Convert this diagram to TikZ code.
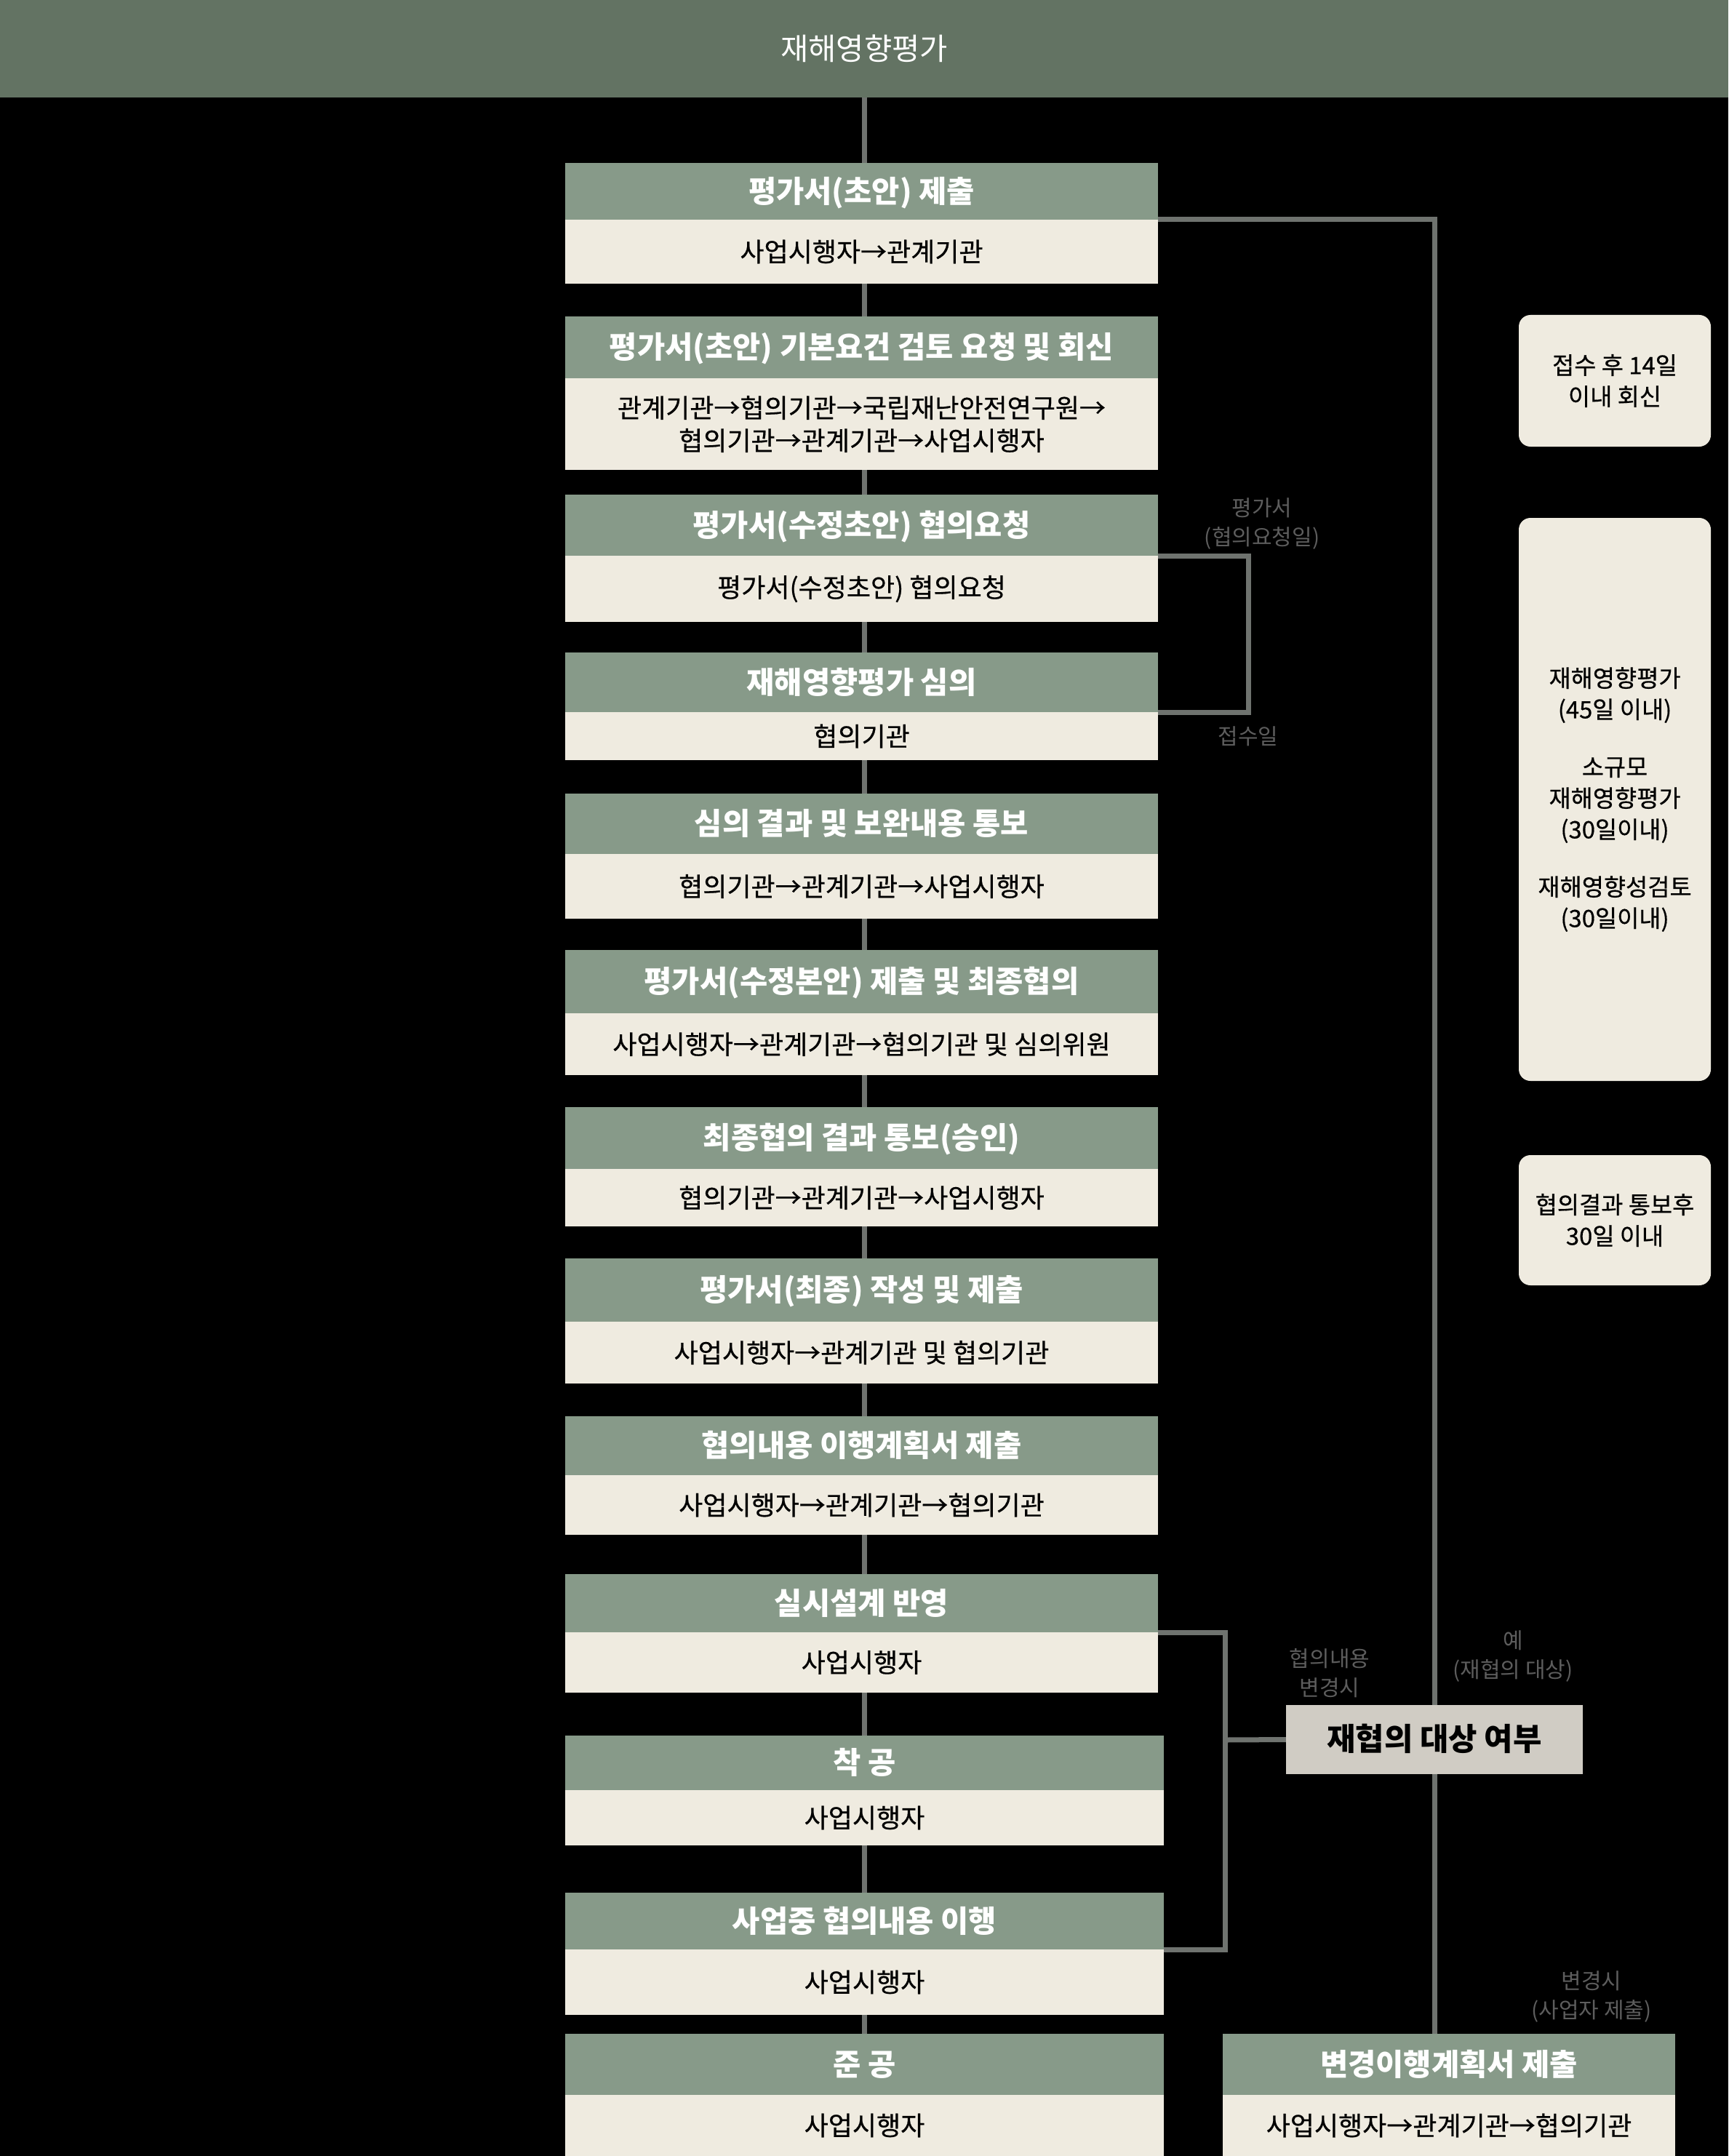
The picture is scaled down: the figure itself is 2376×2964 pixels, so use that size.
\documentclass[tikz,border=0pt]{standalone}
\usepackage{fontspec}
\setmainfont{Noto Sans CJK KR}
\newfontfamily\krmed{Noto Sans CJK KR}[FakeBold=0.5]
\usetikzlibrary{calc}
\definecolor{hdrc}{HTML}{637363}
\definecolor{bandc}{HTML}{879A89}
\definecolor{bodyc}{HTML}{EFEBE0}
\definecolor{jaec}{HTML}{D0CCC4}
\definecolor{linec}{HTML}{6F736F}
\definecolor{labc}{HTML}{5D5D5D}
\pgfdeclarelayer{back}
\pgfdeclarelayer{bg}
\pgfsetlayers{back,bg,main}
\newcommand\mkbox[8]{%
  \node[band, minimum width={(#3-#2)*0.25pt}, minimum height={(#5-#4)*0.25pt}] (t#1) at ({(#2+#3)/2},{(#4+#5)/2}) {#7};
  \node[bodyb, minimum width={(#3-#2)*0.25pt}, minimum height={(#6-#5)*0.25pt}] (b#1) at ({(#2+#3)/2},{(#5+#6)/2}) {#8};
}
\begin{document}
\begin{tikzpicture}[x=0.25pt,y=-0.25pt,
  box/.style={inner sep=0pt, outer sep=0pt, align=center},
  band/.style={box, fill=bandc, text=white, text height=0.86em, text depth=0.1em, font=\fontsize{10.4}{12.5}\selectfont\bfseries},
  bodyb/.style={box, fill=bodyc, text=black, font=\krmed\fontsize{9.0}{11.25}\selectfont},
  side/.style={box, fill=bodyc, rounded corners=4pt, text=black, font=\krmed\fontsize{8.2}{10.75}\selectfont},
  conn/.style={draw=linec, line width=1.75pt},
  lab/.style={inner sep=0pt, text=labc, align=center, font=\fontsize{7.5}{10}\selectfont}]
\begin{pgfonlayer}{back}
\fill[black] (0,0) rectangle (2376,2964);
\end{pgfonlayer}
\useasboundingbox (0,0) rectangle (2376,2964);
\node[box, fill=hdrc, text=white, minimum width=594pt, minimum height={134*0.25pt}, font=\fontsize{10.4}{12}\selectfont] (hdr) at (1188,67) {재해영향평가};
\mkbox{1}{777}{1592}{224}{302}{390}{평가서(초안) 제출}{사업시행자→관계기관}
\mkbox{2}{777}{1592}{435}{520}{646}{평가서(초안) 기본요건 검토 요청 및 회신}{관계기관→협의기관→국립재난안전연구원→\\협의기관→관계기관→사업시행자}
\mkbox{3}{777}{1592}{680}{764}{855}{평가서(수정초안) 협의요청}{평가서(수정초안) 협의요청}
\mkbox{4}{777}{1592}{897}{979}{1045}{재해영향평가 심의}{협의기관}
\mkbox{5}{777}{1592}{1091}{1174}{1263}{심의 결과 및 보완내용 통보}{협의기관→관계기관→사업시행자}
\mkbox{6}{777}{1592}{1306}{1393}{1478}{평가서(수정본안) 제출 및 최종협의}{사업시행자→관계기관→협의기관 및 심의위원}
\mkbox{7}{777}{1592}{1522}{1607}{1686}{최종협의 결과 통보(승인)}{협의기관→관계기관→사업시행자}
\mkbox{8}{777}{1592}{1730}{1817}{1902}{평가서(최종) 작성 및 제출}{사업시행자→관계기관 및 협의기관}
\mkbox{9}{777}{1592}{1947}{2028}{2110}{협의내용 이행계획서 제출}{사업시행자→관계기관→협의기관}
\mkbox{10}{777}{1592}{2164}{2244}{2327}{실시설계 반영}{사업시행자}
\mkbox{11}{777}{1600}{2386}{2461}{2537}{착 공}{사업시행자}
\mkbox{12}{777}{1600}{2602}{2680}{2770}{사업중 협의내용 이행}{사업시행자}
\mkbox{13}{777}{1600}{2796}{2880}{2964}{준 공}{사업시행자}
\mkbox{br}{1681}{2303}{2796}{2880}{2964}{변경이행계획서 제출}{사업시행자→관계기관→협의기관}
\node[box, fill=jaec, minimum width={408*0.25pt}, minimum height={95*0.25pt}, text height=0.86em, text depth=0.1em, font=\fontsize{10.7}{12}\selectfont\bfseries] (jae) at (1972,2391.5) {재협의 대상 여부};
\node[side, minimum width={264*0.25pt}, minimum height={181*0.25pt}] (s1) at (2220,523.5) {접수 후 14일\\이내 회신};
\node[side, minimum width={264*0.25pt}, minimum height={774*0.25pt}] (s2) at (2220,1099) {재해영향평가\\(45일 이내)\\[9pt]소규모\\재해영향평가\\(30일이내)\\[9pt]재해영향성검토\\(30일이내)};
\node[side, minimum width={264*0.25pt}, minimum height={179*0.25pt}] (s3) at (2220,1677.5) {협의결과 통보후\\30일 이내};
\node[lab] (l1) at (1735,720) {평가서\\(협의요청일)};
\node[lab] (l2) at (1716,1012) {접수일};
\node[lab] (l3) at (1828,2300) {협의내용\\변경시};
\node[lab] (l4) at (2080,2277) {예\\(재협의 대상)};
\node[lab] (l5) at (2188,2745) {변경시\\(사업자 제출)};
\coordinate (ka) at (1716,764);
\coordinate (kb) at (1684,2392);
\begin{pgfonlayer}{bg}
\draw[conn] (hdr.south) -- (hdr.south |- t13.north);
\draw[conn] (t1.south east) -| (jae.north);
\draw[conn] (jae.south) -- (jae.south |- tbr.north);
\draw[conn] (t3.south east) -- (ka) |- (t4.south east);
\draw[conn] (t10.south east) -| (kb) |- (t12.south east);
\draw[conn] (kb) -- (jae.west);
\end{pgfonlayer}
\end{tikzpicture}
\end{document}
